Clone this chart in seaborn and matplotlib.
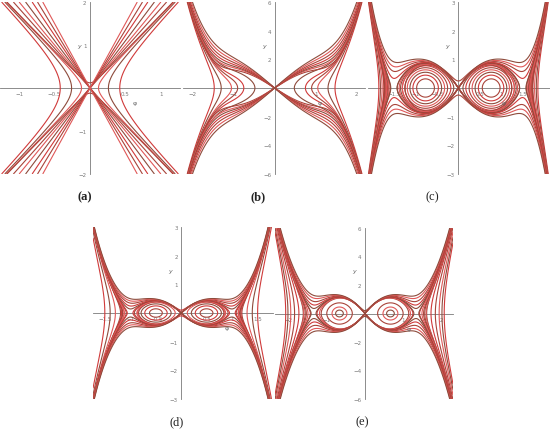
import numpy as np
import matplotlib
matplotlib.use("Agg")
import matplotlib.pyplot as plt
import seaborn as sns
from matplotlib.ticker import FixedLocator, FixedFormatter, MultipleLocator

sns.set_theme(style="white")
plt.rcParams['font.family'] = ['DejaVu Sans']

# ---------------- data ----------------
# panel (a)
A_XLIM, A_YLIM = (-1.27, 1.27), (-2.0, 2.0)
A_S2 = 2.9                        # squared asymptotic slope of the hyperbolas
A_VERTEX = [0.12, 0.26, 0.42]     # x-axis vertices of opening-left/right curves
A_YCROSS = [0.12]                 # y-axis crossings of opening-up/down curves
A_FAN = [1.85, 2.0, 2.2, 2.45, 2.7, 3.0]  # slopes of curves through the origin
A_XT, A_YT = [-1, -0.5, 0.5, 1], [-2, -1, 1, 2]

# panel (b)
B_XLIM, B_YLIM = (-2.23, 2.2), (-6.0, 6.0)
B_POLY = [4.0, -2.5, 0.8]         # coefficients of x^2, x^4, x^6
B_VERTEX = [0.48, 0.75, 0.9, 1.05, 1.3, 1.47]
B_FAN = [-0.7, -0.3, 0.0, 0.4, 0.9, 1.5, 2.2]
B_XT, B_YT = [-2, -1, 1, 2], [-6, -4, -2, 2, 4, 6]

# panels (c), (d), (e): amplitude, saddle x, growth, splitting
C_PAR = dict(A=2.28, r=1.5, D=0.12, eps=0.05)
C_XLIM, C_YLIM = (-2.1, 2.13), (-3.0, 3.0)
C_LEVELS = [-2.1, -1.5, -1.0, -0.62, -0.52, -0.42, -0.32, -0.22, -0.12, -0.05, 0.0, 0.06]
C_FAN = [-0.15, -0.07, 0.03, 0.1, 0.2, 0.3, 0.42]
C_XT, C_YT = [-1.5, -1, -0.5, 0.5, 1, 1.5], [-3, -2, -1, 1, 2, 3]

D_PAR = dict(A=2.8, r=1.0, D=0.125, eps=0.02)
D_XLIM, D_YLIM = (-1.73, 1.8), (-3.0, 3.0)
D_LEVELS = [-2.5, -1.2, -0.5, -0.15, -0.11, -0.07, -0.03, 0.0, 0.01]
D_FAN = [-0.06, -0.03, 0.04, 0.08, 0.14, 0.2, 0.27]
D_XT, D_YT = [-1.5, -1, -0.5, 0.5, 1, 1.5], [-3, -2, -1, 1, 2, 3]

E_PAR = dict(A=6.33, r=1.34, D=0.014, eps=0.05)
E_XLIM, E_YLIM = (-2.35, 2.3), (-6.0, 6.0)
E_LEVELS = [-18, -14, -10, -6, -3, -1.2, -1.05, -0.7, 0.0, 0.04]
E_FAN = [-0.2, -0.1, 0.12, 0.25, 0.45, 0.7, 0.95]
E_XT, E_YT = [-2, -1, 1, 2], [-6, -4, -2, 2, 4, 6]

LABELS = ["(a)", "(b)", "(c)", "(d)", "(e)"]

LINE_COLORS = ["#d03a3a", "#8e4b3c", "#e05858", "#a8443a"]
AXIS_COLOR = "#7a7a7a"

# ---------------- potential functions ----------------
def F_a(x):
    return A_S2 * x ** 2

def F_b(x):
    return B_POLY[0] * x ** 2 + B_POLY[1] * x ** 4 + B_POLY[2] * x ** 6

def make_F(p):
    def F(x):
        ax_ = np.abs(x)
        return p["A"] * x ** 2 * (p["r"] - ax_) ** 2 * (1 + p["D"] * x ** 4) - p["eps"] * x ** 2
    return F

F_c, F_d, F_e = make_F(C_PAR), make_F(D_PAR), make_F(E_PAR)


def style_axes(ax, xlim, ylim, xt, yt, xminor, yminor):
    ax.set_xlim(*xlim)
    ax.set_ylim(*ylim)
    ax.set_facecolor("white")
    for s in ["top", "right"]:
        ax.spines[s].set_visible(False)
    for s in ["left", "bottom"]:
        ax.spines[s].set_position(("data", 0))
        ax.spines[s].set_color(AXIS_COLOR)
        ax.spines[s].set_linewidth(0.6)
        ax.spines[s].set_zorder(0.5)
    ax.xaxis.set_major_locator(FixedLocator(xt))
    ax.xaxis.set_major_formatter(FixedFormatter([f"{v:g}".replace("-", "\u2212") for v in xt]))
    ax.yaxis.set_major_locator(FixedLocator(yt))
    ax.yaxis.set_major_formatter(FixedFormatter([f"{v:g}".replace("-", "\u2212") for v in yt]))
    ax.xaxis.set_minor_locator(MultipleLocator(xminor))
    ax.yaxis.set_minor_locator(MultipleLocator(yminor))
    ax.tick_params(which="major", direction="inout", length=3, width=0.5,
                   colors=AXIS_COLOR, labelsize=4, pad=1)
    ax.tick_params(which="minor", direction="inout", length=1.6, width=0.4, colors=AXIS_COLOR)
    ax.grid(False)
    # variable names
    ax.text(-0.06 * (xlim[1] - xlim[0]), 0.5 * ylim[1], "y", fontsize=4.5,
            color="#666666", style="italic", ha="center", va="center")
    ax.text(0.5 * xlim[1], -0.17 * ylim[1], "\u03c6", fontsize=4.5,
            color="#666666", ha="center", va="center")


def draw(ax, xlim, ylim, F, h_levels, fan_levels):
    x = np.linspace(xlim[0], xlim[1], 1000)
    x[np.abs(x) < 1e-9] = 1e-9
    y = np.linspace(ylim[0], ylim[1], 1000)
    X, Y = np.meshgrid(x, y)
    H = Y ** 2 - F(X)
    ax.contour(X, Y, H, levels=sorted(h_levels), colors=LINE_COLORS,
               linewidths=0.8, zorder=2)
    Q = (Y ** 2 - F(X)) / X ** 2
    ax.contour(X, Y, Q, levels=sorted(fan_levels), colors=LINE_COLORS[::-1],
               linewidths=0.8, zorder=2)


fig = plt.figure(figsize=(5.5, 4.31), dpi=100)
W, Hh = 550.0, 431.0

def add_axes(x0, y0, x1, y1):
    return fig.add_axes([x0 / W, 1 - y1 / Hh, (x1 - x0) / W, (y1 - y0) / Hh])

# (a)
ax = add_axes(0, 3, 180, 175)
a_h = [-F_a(v) for v in A_VERTEX] + [c ** 2 for c in A_YCROSS]
a_fan = [s ** 2 - A_S2 for s in A_FAN]
draw(ax, A_XLIM, A_YLIM, F_a, a_h, a_fan)
style_axes(ax, A_XLIM, A_YLIM, A_XT, A_YT, 0.1, 0.2)

# (b)
ax = add_axes(183, 3, 365, 175)
b_h = [-F_b(v) for v in B_VERTEX]
draw(ax, B_XLIM, B_YLIM, F_b, b_h, B_FAN)
style_axes(ax, B_XLIM, B_YLIM, B_XT, B_YT, 0.2, 0.5)

# (c)
ax = add_axes(368, 3, 550, 175)
draw(ax, C_XLIM, C_YLIM, F_c, C_LEVELS, C_FAN)
style_axes(ax, C_XLIM, C_YLIM, C_XT, C_YT, 0.1, 0.25)

# (d)
ax = add_axes(93, 228, 273, 400)
draw(ax, D_XLIM, D_YLIM, F_d, D_LEVELS, D_FAN)
style_axes(ax, D_XLIM, D_YLIM, D_XT, D_YT, 0.1, 0.25)

# (e)
ax = add_axes(275, 229, 453, 400)
draw(ax, E_XLIM, E_YLIM, F_e, E_LEVELS, E_FAN)
style_axes(ax, E_XLIM, E_YLIM, E_XT, E_YT, 0.2, 0.5)

label_pos = [(85, 197), (258, 197), (432, 197), (177, 422), (362, 422)]
for lab, (px, py) in zip(LABELS, label_pos):
    fig.text(px / W, 1 - py / Hh, lab, fontsize=9, ha="center", va="center",
             family="Liberation Serif",
             weight="bold" if lab in ("(a)", "(b)") else "normal", color="#222222")

fig.savefig("out.png", dpi=100, facecolor="white")
